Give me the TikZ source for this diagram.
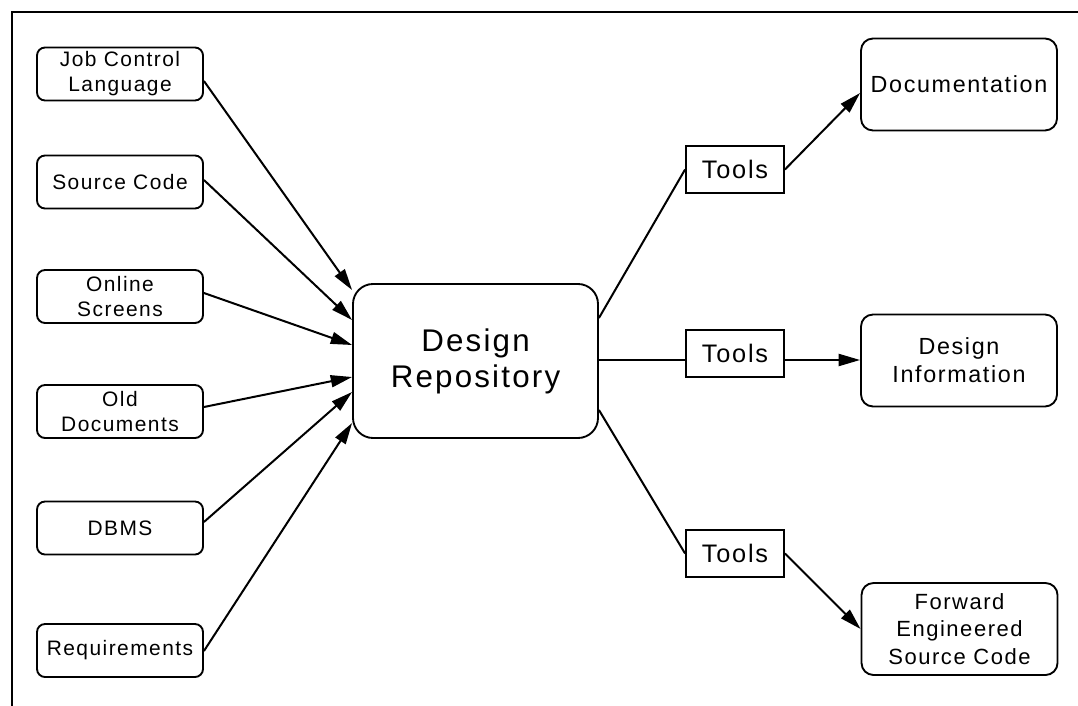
\documentclass[tikz,border=0pt]{standalone}
\usepackage{fontspec}
\usetikzlibrary{arrows.meta}
\newfontfamily\labfont{Liberation Sans}[LetterSpace=7]
\begin{document}
\begin{tikzpicture}[x=0.75pt,y=-0.75pt,
  box/.style={draw, line width=1.4pt, inner sep=0pt, align=center},
  srcbox/.style={box, rounded corners=6pt, minimum width=124.5pt, minimum height=39.75pt,
    font=\labfont\fontsize{15.7}{18.75}\selectfont},
  repbox/.style={box, rounded corners=15pt, minimum width=183.75pt, minimum height=115.5pt,
    font=\labfont\fontsize{23.5}{27}\selectfont},
  toolbox/.style={box, minimum width=73.5pt, minimum height=35.25pt,
    font=\labfont\fontsize{19}{22}\selectfont},
  outbox/.style={box, rounded corners=9pt, minimum width=147pt, minimum height=69pt,
    font=\labfont\fontsize{17.5}{21}\selectfont},
  arr/.style={line width=1.5pt, -{Triangle[length=16pt,width=9pt]}},
  ln/.style={line width=1.5pt}]
\useasboundingbox (0,0) rectangle (1078,706);
\draw[line width=1.4pt] (12,706) -- (12,12) -- (1078,12);

\node[srcbox] (jcl) at (120,74) {Job Control\\Language};
\node[srcbox] (src) at (120,182) {Source Code};
\node[srcbox] (onl) at (120,296.5) {Online\\Screens};
\node[srcbox] (old) at (120,411.5) {Old\\Documents};
\node[srcbox] (dbms) at (120,528) {DBMS};
\node[srcbox] (req) at (120,650.5) {Requirements};

\node[repbox] (dr) at (475.5,361) {Design\\Repository};

\node[toolbox] (t1) at (735,169.5) {Tools};
\node[toolbox] (t2) at (735,353.5) {Tools};
\node[toolbox] (t3) at (735,553.5) {Tools};

\node[outbox] (doc) at (959,84.5) {Documentation};
\node[outbox] (info) at (959,360.5) {Design\\Information};
\node[outbox, font=\labfont\fontsize{16.5}{20.6}\selectfont] (fwd) at (959.5,629) {Forward\\Engineered\\Source Code};

\draw[arr] (jcl.east |- 0,81) -- (dr.west |- 0,290);
\draw[arr] (src.east |- 0,180) -- (dr.west |- 0,320);
\draw[arr] (onl.east |- 0,293) -- (dr.west |- 0,345);
\draw[arr] (old.east |- 0,407) -- (dr.west |- 0,377);
\draw[arr] (dbms.east |- 0,522) -- (dr.west |- 0,392);
\draw[arr] (req.east |- 0,651) -- (dr.west |- 0,423);

\draw[ln] (dr.east |- 0,318) -- (t1.west);
\draw[ln] (dr.east |- 0,360) -- (t2.west |- 0,360);
\draw[ln] (dr.east |- 0,410) -- (t3.west);

\draw[arr] (t1.east) -- (doc.west |- 0,93);
\draw[arr] (t2.east |- 0,360) -- (info.west |- 0,360);
\draw[arr] (t3.east) -- (fwd.west);
\end{tikzpicture}
\end{document}
